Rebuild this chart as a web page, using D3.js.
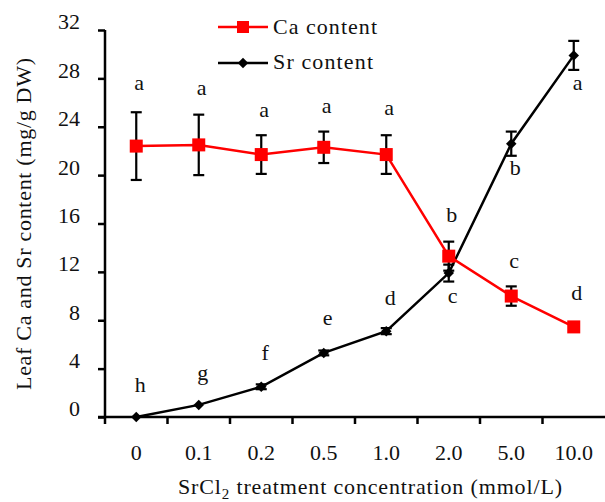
<!DOCTYPE html>
<html><head><meta charset="utf-8">
<script src="https://cdn.jsdelivr.net/npm/d3@7"></script>
<style>body{margin:0;background:#fff}svg{display:block}text{font-family:"Liberation Serif","DejaVu Serif",serif;fill:#111}</style>
</head><body><svg id="c" width="605" height="502"></svg>
<script>
const categories = ["0","0.1","0.2","0.5","1.0","2.0","5.0","10.0"];
const caValues = [22.4, 22.5, 21.7, 22.3, 21.7, 13.3, 10.0, 7.45];
const caErrors = [2.8, 2.5, 1.6, 1.3, 1.6, 1.2, 0.8, 0.3];
const srValues = [0.0, 1.0, 2.5, 5.3, 7.1, 11.9, 22.6, 29.9];
const srErrors = [0.05, 0.1, 0.2, 0.2, 0.25, 0.7, 1.0, 1.2];
const caLetters = ["a","a","a","a","a","b","c","d"];
const caLetterY = [27.0, 26.6, 24.8, 25.1, 25.0, 16.1, 12.3, 9.7];
const srLetters = ["h","g","f","e","d","c","b","a"];
const srLetterY = [2.07, 3.07, 4.7, 7.6, 9.26, 9.4, 20.0, 27.0];
const yTicks = [0,4,8,12,16,20,24,28,32];

const svg = d3.select("#c");
const x = d3.scaleBand().domain(categories).range([105, 605]);
const y = d3.scaleLinear().domain([0, 32]).range([417, 30]);
const cx = d => x(d) + x.bandwidth()/2;

// Axes
const yAxis = svg.append("g").attr("transform","translate(105,0)")
  .call(d3.axisLeft(y).tickValues(yTicks).tickSize(7).tickPadding(18));
yAxis.select(".domain").attr("stroke","#000").attr("stroke-width",2.5).attr("d","M0,30V418");
yAxis.selectAll(".tick line").attr("stroke","#000").attr("stroke-width",2.5);
yAxis.selectAll(".tick text").attr("font-size",22).attr("dy","-0.05em")
  .style("font-family","Liberation Serif");

const xAxis = svg.append("g").attr("transform","translate(0,417)")
  .call(d3.axisBottom(x).tickSize(0).tickPadding(27));
xAxis.select(".domain").attr("stroke","#000").attr("stroke-width",2.5).attr("d","M98,0H605");
xAxis.selectAll(".tick text").attr("font-size",22).style("font-family","Liberation Serif");
// boundary ticks
const bounds = categories.map(c => x(c));
svg.append("g").selectAll("line").data(bounds).join("line")
  .attr("x1", d=>d).attr("x2", d=>d).attr("y1",417).attr("y2",424)
  .attr("stroke","#000").attr("stroke-width",2.5);

// Axis titles
svg.append("text").attr("transform","translate(31,224) rotate(-90)")
  .attr("text-anchor","middle").attr("font-size",22)
  .attr("textLength",332).attr("lengthAdjust","spacing")
  .text("Leaf Ca and Sr content (mg/g DW)");
const xt = svg.append("text").attr("x",370).attr("y",494).attr("text-anchor","middle").attr("font-size",22)
  .attr("textLength",384).attr("lengthAdjust","spacing");
xt.append("tspan").text("SrCl");
xt.append("tspan").attr("font-size",15).attr("dy",5).text("2");
xt.append("tspan").attr("dy",-5).text(" treatment concentration (mmol/L)");

function errorBars(vals, errs){
  const g = svg.append("g").attr("stroke","#000").attr("stroke-width",2.2);
  categories.forEach((c,i)=>{
    const X = cx(c), t = y(vals[i]+errs[i]), b = y(vals[i]-errs[i]);
    if (b - t < 3) return;
    g.append("line").attr("x1",X).attr("x2",X).attr("y1",t).attr("y2",b);
    g.append("line").attr("x1",X-5.5).attr("x2",X+5.5).attr("y1",t).attr("y2",t);
    g.append("line").attr("x1",X-5.5).attr("x2",X+5.5).attr("y1",b).attr("y2",b);
  });
}
const line = d3.line().x((d,i)=>cx(categories[i])).y(d=>y(d));

// Sr series
errorBars(srValues, srErrors);
svg.append("path").datum(srValues).attr("d",line).attr("fill","none").attr("stroke","#000").attr("stroke-width",2.5);
const diamond = d3.symbol().type(d3.symbolSquare).size(55);
svg.append("g").selectAll("path").data(srValues).join("path")
  .attr("d", diamond).attr("fill","#000")
  .attr("transform",(d,i)=>`translate(${cx(categories[i])},${y(d)}) rotate(45)`);

// Ca series
errorBars(caValues, caErrors);
svg.append("path").datum(caValues).attr("d",line).attr("fill","none").attr("stroke","#ff0000").attr("stroke-width",2.5);
svg.append("g").selectAll("rect").data(caValues).join("rect")
  .attr("x",(d,i)=>cx(categories[i])-6.5).attr("y",d=>y(d)-6.5)
  .attr("width",13).attr("height",13).attr("fill","#ff0000");

// Letters
svg.append("g").selectAll("text").data(caLetters).join("text")
  .attr("x",(d,i)=>cx(categories[i])+3).attr("y",(d,i)=>y(caLetterY[i]))
  .attr("text-anchor","middle").attr("font-size",22).text(d=>d);
svg.append("g").selectAll("text").data(srLetters).join("text")
  .attr("x",(d,i)=>cx(categories[i])+4).attr("y",(d,i)=>y(srLetterY[i]))
  .attr("text-anchor","middle").attr("font-size",22).text(d=>d);

// Legend
const leg = svg.append("g");
leg.append("line").attr("x1",218).attr("x2",268).attr("y1",27).attr("y2",27).attr("stroke","#ff0000").attr("stroke-width",2.5);
leg.append("rect").attr("x",237).attr("y",21).attr("width",12).attr("height",12).attr("fill","#ff0000");
leg.append("text").attr("x",273).attr("y",34).attr("font-size",22).attr("textLength",104).attr("lengthAdjust","spacing").text("Ca content");
leg.append("line").attr("x1",218).attr("x2",268).attr("y1",63).attr("y2",63).attr("stroke","#000").attr("stroke-width",2.5);
leg.append("path").attr("d",diamond).attr("fill","#000").attr("transform","translate(243,63) rotate(45)");
leg.append("text").attr("x",273).attr("y",69).attr("font-size",22).attr("textLength",100).attr("lengthAdjust","spacing").text("Sr content");
</script></body></html>
